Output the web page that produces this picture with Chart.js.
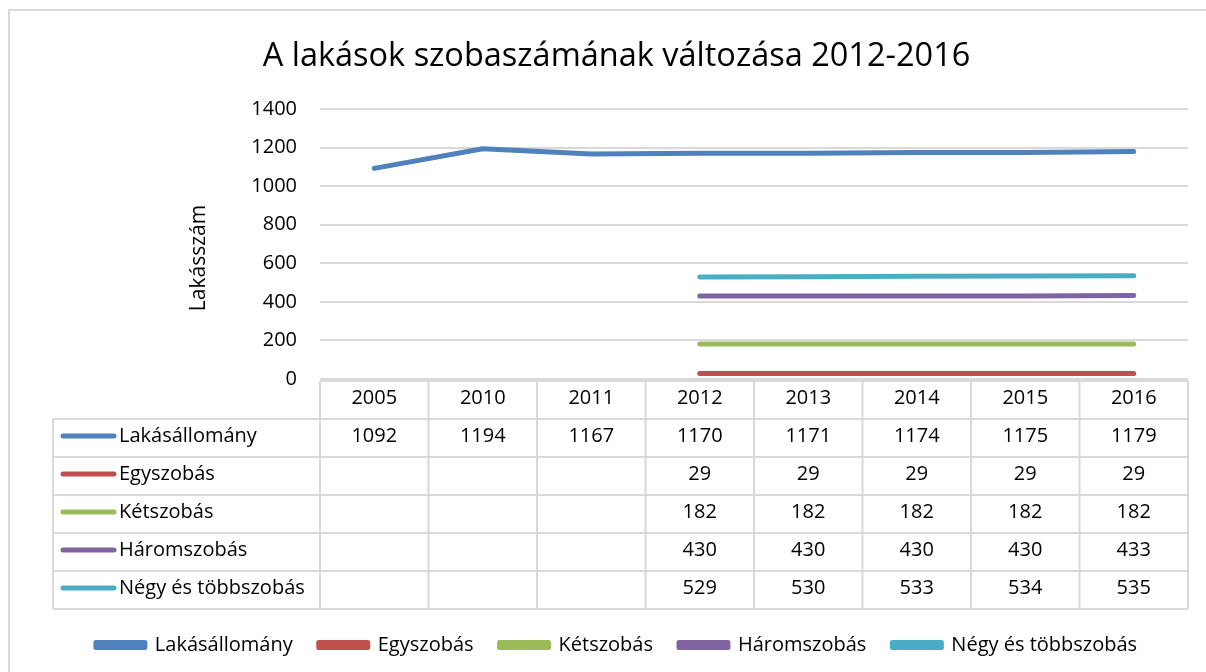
<!DOCTYPE html>
<html>
<head>
<meta charset="utf-8">
<script src="https://cdn.jsdelivr.net/npm/chart.js@4"></script>
<style>
  html, body { margin: 0; padding: 0; background: #fff; }
  #wrap { width: 1206px; height: 672px; }
</style>
</head>
<body>
<div id="wrap"><canvas id="chart" width="1206" height="672"></canvas></div>
<script>
const years = ["2005", "2010", "2011", "2012", "2013", "2014", "2015", "2016"];
const seriesNames = ["Lakásállomány", "Egyszobás", "Kétszobás", "Háromszobás", "Négy és többszobás"];
const lakasallomany = [1092, 1194, 1167, 1170, 1171, 1174, 1175, 1179];
const egyszobas = [null, null, null, 29, 29, 29, 29, 29];
const ketszobas = [null, null, null, 182, 182, 182, 182, 182];
const haromszobas = [null, null, null, 430, 430, 430, 430, 433];
const negyTobb = [null, null, null, 529, 530, 533, 534, 535];
const colors = ["#4F81BD", "#C0504D", "#9BBB59", "#8064A2", "#4BACC6"];
const yTicks = [0, 200, 400, 600, 800, 1000, 1200, 1400];

const allValues = [lakasallomany, egyszobas, ketszobas, haromszobas, negyTobb];
const FONT = "'Open Sans', Lato, sans-serif";
const gridColor = "#d9d9d9";

// table below the plot + frame + y title
const tablePlugin = {
    id: "dataTable",
    beforeDraw(chart) {
        let ctx = chart.ctx;
        ctx.save();
        ctx.strokeStyle = gridColor;
        ctx.lineWidth = 2;
        ctx.strokeRect(9, 10, 1220, 700);
        ctx.restore();
    },
    afterDraw(chart) {
        let ctx = chart.ctx;
        let x = chart.scales.x;
        let area = chart.chartArea;
        let n = years.length;
        let colW = (x.right - x.left) / n;
        let top = area.bottom + 2;
        let rowH = 38;
        let tableLeft = 53;
        let bottom = top + rowH * (seriesNames.length + 1);

        ctx.save();
        ctx.strokeStyle = gridColor;
        ctx.lineWidth = 2;
        ctx.beginPath();
        ctx.moveTo(x.left, top);
        ctx.lineTo(x.right, top);
        for (let r = 1; r <= seriesNames.length + 1; r++) {
            ctx.moveTo(tableLeft, top + r * rowH);
            ctx.lineTo(x.right, top + r * rowH);
        }
        for (let i = 0; i <= n; i++) {
            ctx.moveTo(x.left + i * colW, top);
            ctx.lineTo(x.left + i * colW, bottom);
        }
        ctx.moveTo(tableLeft, top + rowH);
        ctx.lineTo(tableLeft, bottom);
        ctx.stroke();

        ctx.fillStyle = "#000";
        ctx.font = "20px " + FONT;
        ctx.textBaseline = "middle";
        ctx.textAlign = "center";
        years.forEach((yr, i) => {
            ctx.fillText(yr, x.getPixelForValue(i), top + rowH / 2 - 2);
        });

        seriesNames.forEach((name, r) => {
            let cy = top + rowH * (r + 1) + rowH / 2 - 2;
            ctx.strokeStyle = colors[r];
            ctx.lineWidth = 5;
            ctx.lineCap = "round";
            ctx.beginPath();
            ctx.moveTo(63, cy);
            ctx.lineTo(114, cy);
            ctx.stroke();
            ctx.textAlign = "left";
            ctx.fillStyle = "#000";
            ctx.fillText(name, 119, cy);
            ctx.textAlign = "center";
            allValues[r].forEach((v, i) => {
                if (v !== null) ctx.fillText(String(v), x.getPixelForValue(i), cy);
            });
        });

        // y axis title
        ctx.font = "21px " + FONT;
        ctx.translate(199, 258);
        ctx.rotate(-Math.PI / 2);
        ctx.textAlign = "center";
        ctx.fillText("Lakásszám", 0, 0);
        ctx.restore();
    }
};

const datasets = seriesNames.map((name, i) => ({
    label: name,
    data: allValues[i],
    borderColor: colors[i],
    backgroundColor: colors[i],
    borderWidth: 5,
    borderCapStyle: "round",
    borderJoinStyle: "round",
    pointRadius: 0,
    tension: 0
}));

new Chart(document.getElementById("chart"), {
    type: "line",
    data: { labels: years, datasets: datasets },
    plugins: [tablePlugin],
    options: {
        responsive: false,
        animation: false,
        layout: { padding: { left: 45, right: 18, top: 10, bottom: 7 } },
        plugins: {
            title: {
                display: true,
                text: "A lakások szobaszámának változása 2012-2016",
                color: "#000",
                font: { family: FONT, size: 32.5, weight: "normal" },
                padding: { top: 27, bottom: 33 }
            },
            legend: {
                position: "bottom",
                labels: {
                    color: "#000",
                    font: { family: FONT, size: 20 },
                    boxWidth: 49,
                    boxHeight: 5,
                    padding: 26
                }
            },
            tooltip: { enabled: false }
        },
        scales: {
            x: {
                offset: true,
                grid: { display: false },
                border: { display: false },
                ticks: { display: false },
                afterFit(scale) { scale.height = 230; }
            },
            y: {
                min: 0,
                max: 1400,
                afterBuildTicks(scale) { scale.ticks = yTicks.map(v => ({ value: v })); },
                grid: { color: gridColor, lineWidth: 2, drawTicks: false },
                border: { display: false },
                ticks: {
                    color: "#000",
                    font: { family: FONT, size: 20 },
                    padding: 23,
                    callback: v => String(v)
                },
                afterFit(scale) { scale.width = 275; }
            }
        }
    }
});
</script>
</body>
</html>
